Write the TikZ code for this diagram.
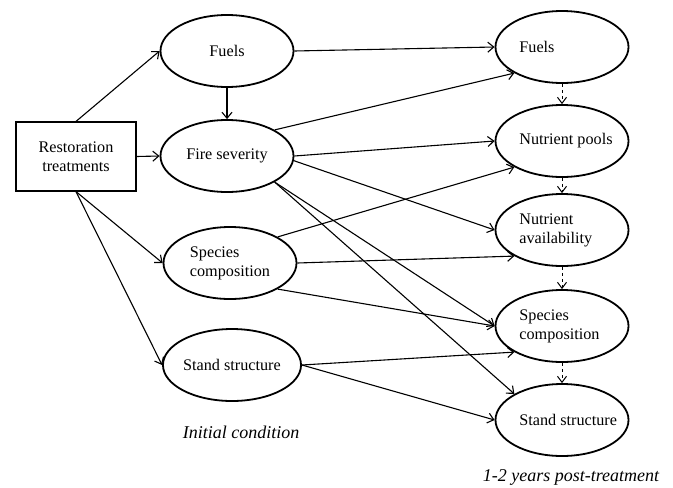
\documentclass[tikz,border=0pt]{standalone}
\usepackage{fontspec}
\setmainfont{Liberation Serif}
\usetikzlibrary{shapes.geometric,arrows.meta}

\begin{document}
\begin{tikzpicture}[x=0.5pt, y=-0.5pt,
    every node/.style={font=\fontsize{8.1}{9.4}\selectfont},
    oval/.style={draw, ellipse, line width=0.9pt, minimum width=66.5pt, minimum height=36pt, inner sep=0pt},
    link/.style={-{Straight Barb[length=3pt,width=5pt]}, line width=0.55pt},
    seq/.style={-{Straight Barb[length=3pt,width=4.5pt]}, line width=0.5pt, dash pattern=on 1.6pt off 1.4pt}]
    \useasboundingbox (0,0) rectangle (673,487);

    \node[draw, line width=0.6pt, minimum width=60pt, minimum height=34.5pt, align=center] (treat) at (76,156.5) {Restoration\\treatments};

    % initial condition
    \node[oval] (fuels0) at (227,51) {Fuels};
    \node[oval] (fire0) at (227,156) {Fire severity};
    \node[oval, align=left] (species0) at (230,263) {Species\\composition};
    \node[oval] (stand0) at (232,365) {Stand structure};

    % 1-2 years later
    \foreach \name/\y/\txt in {fuels1/47/Fuels, pools1/141/Nutrient pools, avail1/230/{Nutrient\\availability}, species1/326/{Species\\composition}, stand1/420/Stand structure} {
        \node[oval] (\name) at (562,\y) {};
        \node[anchor=west, align=left, inner xsep=0pt] (\name t) at (519,\y) {\txt};
    }

    \foreach \a/\b in {treat.north/fuels0.west, treat.east/fire0.west, treat.south/species0.west, treat.south/stand0.west, fuels0.south/fire0.north} {
        \draw[link] (\a) -- (\b);
    }
    \foreach \a/\b in {fuels0.east/fuels1.west, fire0.north east/fuels1.south west, fire0.east/pools1.west, fire0.-4/avail1.west, fire0.south east/species1.west, fire0.south east/stand1.north west, species0.north east/pools1.south west, species0.east/avail1.south west, species0.south east/species1.west, stand0.east/species1.south west, stand0.east/stand1.west} {
        \draw[link] (\a) -- (\b);
    }
    \foreach \a/\b in {fuels1/pools1, pools1/avail1, avail1/species1, species1/stand1} {
        \draw[seq] (\a) -- (\b);
    }

    \node[font=\fontsize{9}{11}\selectfont\itshape] (initial) at (241,432) {Initial condition};
    \node[font=\fontsize{9}{11}\selectfont\itshape] (post) at (571,477) {1-2 years post-treatment};
\end{tikzpicture}
\end{document}
